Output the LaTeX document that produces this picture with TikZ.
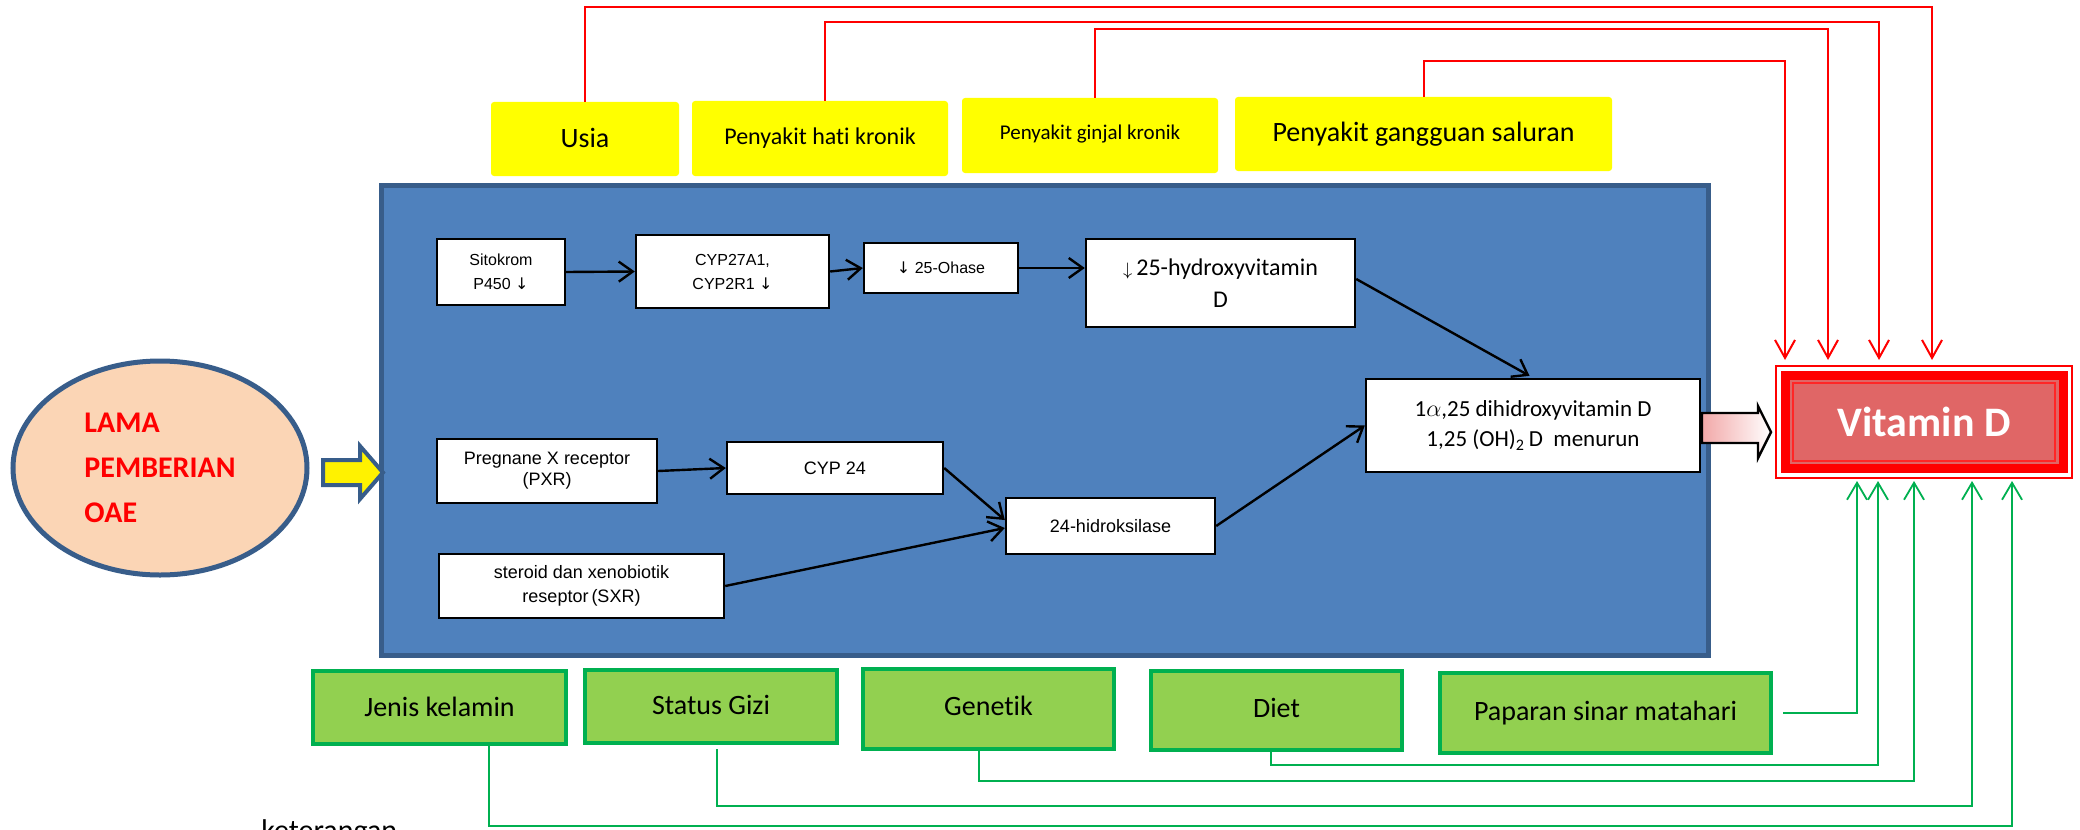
\documentclass[tikz,border=0pt]{standalone}
\usepackage{fontspec}
\setmainfont{Carlito}[Ligatures=NoCommon]
\newfontfamily\ari{Liberation Sans}
\newfontfamily\dej{DejaVu Sans}
\usetikzlibrary{arrows.meta,calc,shapes.geometric}
\definecolor{bluefill}{HTML}{4F81BD}
\definecolor{blueedge}{HTML}{385D8A}
\definecolor{peach}{HTML}{FBD5B5}
\definecolor{gfill}{HTML}{92D050}
\definecolor{gedge}{HTML}{00B050}
\definecolor{vitfill}{HTML}{E06666}
\definecolor{pinkarrow}{HTML}{F2A8A8}
\definecolor{ylw}{HTML}{FFFF00}
\begin{document}
\begin{tikzpicture}[x=0.5pt,y=-0.5pt,
  ibox/.style={draw=black, line width=1.2pt, fill=white, inner sep=1pt, align=center},
  arifont/.style={font=\ari\fontsize{8}{12}\selectfont},
  arifontb/.style={font=\ari\fontsize{9}{10.5}\selectfont},
  ybox/.style={fill=ylw, rounded corners=1.5pt, inner sep=0pt, align=center},
  gbox/.style={draw=gedge, fill=gfill, line width=2pt, inner sep=0pt, align=center, font=\fontsize{14}{16}\selectfont},
  barrow/.style={-{Straight Barb[length=7pt,width=10pt]}, line width=1.2pt, black},
  rline/.style={red, line width=1pt, -{Straight Barb[length=9pt,width=10pt]}},
  gline/.style={gedge, line width=0.9pt, -{Straight Barb[length=8.5pt,width=10pt]}}
]
\useasboundingbox (0,0) rectangle (2080,829);
\clip (0,0) rectangle (2080,829);
\fill[white] (0,0) rectangle (2080,829);

% big blue panel
\node[draw=blueedge, fill=bluefill, line width=2.5pt, minimum width=663.5pt, minimum height=235pt, inner sep=0] (blue) at (1044.5,420) {};

% ellipse
\node[ellipse, draw=blueedge, fill=peach, line width=2.5pt, minimum width=147pt, minimum height=107pt, inner sep=0,
      align=left, text=red, font=\bfseries\fontsize{15}{22.5}\selectfont] (lama) at (160,468) {LAMA\\PEMBERIAN\\OAE};

% yellow block arrow
\draw[blueedge, line width=2pt, fill=yellow, line join=miter] (323,460) -- (360,460) -- (360,446) -- (383,472.5) -- (360,499) -- (360,485) -- (323,485) -- cycle;

% yellow boxes
\node[ybox, minimum width=94pt, minimum height=37pt, font=\fontsize{14}{16}\selectfont] (usia) at (585,139) {\raisebox{1pt}{Usia}};
\node[ybox, minimum width=128pt, minimum height=37.5pt, font=\fontsize{12}{14}\selectfont] (hati) at (820,138.5) {\raisebox{2pt}{Penyakit hati kronik}};
\node[ybox, minimum width=128pt, minimum height=37.5pt, font=\fontsize{10.5}{12}\selectfont] (ginjal) at (1090,135.5) {\raisebox{3pt}{Penyakit ginjal kronik}};
\node[ybox, minimum width=188.5pt, minimum height=37pt, font=\fontsize{14}{16}\selectfont] (saluran) at (1423.5,134) {\raisebox{1pt}{Penyakit gangguan saluran}};

% inner boxes
\node[ibox, arifont, minimum width=64pt, minimum height=33pt] (sito) at (501,272) {Sitokrom\\P450 {\dej ↓}};
\node[ibox, arifont, minimum width=96.5pt, minimum height=36.5pt] (cyp27) at (732.5,271.5) {CYP27A1,\\CYP2R1 {\dej ↓}};
\node[ibox, arifont, minimum width=77pt, minimum height=25pt] (ohase) at (941,268) {{\dej ↓} 25-Ohase};
\node[ibox, minimum width=134.5pt, minimum height=44pt, font=\fontsize{12}{16}\selectfont] (hydroxy) at (1220.5,283) {{\fontsize{9}{9}\selectfont$\downarrow$}\,25-hydroxyvitamin\\D};
\node[ibox, minimum width=167pt, minimum height=46.5pt, font=\fontsize{11.5}{15}\selectfont] (dihyd) at (1533,425.5) {1$\alpha$,25 dihidroxyvitamin D\\1,25 (OH)\textsubscript{2}\,D\ \ menurun};
\node[ibox, arifontb, minimum width=110pt, minimum height=32pt] (pxr) at (547,471) {Pregnane X receptor\\(PXR)};
\node[ibox, arifontb, minimum width=108pt, minimum height=26pt] (cyp24) at (835,468) {CYP 24};
\node[ibox, arifontb, minimum width=104.5pt, minimum height=28pt] (hidrok) at (1110.5,526) {24-hidroksilase};
\node[ibox, font=\ari\fontsize{9}{12}\selectfont, minimum width=142.5pt, minimum height=32pt] (sxr) at (581.5,586) {steroid dan xenobiotik\\reseptor\,(SXR)};

% black arrows
\draw[barrow] (sito.east) -- (cyp27.west);
\draw[barrow] (cyp27.east) -- (ohase.west);
\draw[barrow] (ohase.east) -- (hydroxy.west |- ohase.east);
\draw[barrow, shorten >=2pt] ([yshift=2pt]hydroxy.east) -- (dihyd.north);
\draw[barrow] (hidrok.east) -- (dihyd.west);
\draw[barrow] (pxr.east) -- (cyp24.west);
\draw[barrow] (cyp24.east) -- ([yshift=3pt]hidrok.west);
\draw[barrow] (sxr.east) -- ([yshift=-1pt]hidrok.west);

% Vitamin D box
\node[draw=red, line width=1pt, minimum width=148pt, minimum height=56pt, inner sep=0,
  path picture={
    \draw[red, line width=4.5pt, fill=vitfill] ($(path picture bounding box.north west)+(9,9)$) rectangle ($(path picture bounding box.south east)+(-9,-10)$);
    \draw[red!85!white, line width=0.8pt] ($(path picture bounding box.north west)+(17,17)$) rectangle ($(path picture bounding box.south east)+(-17,-17)$);
  },
  text=white, font=\bfseries\fontsize{21}{24}\selectfont] (vitd) at (1924,422) {Vitamin D};

% pink block arrow
\path[draw=black, line width=1.2pt, line join=miter, left color=pinkarrow, right color=white] (1702,413) -- (1758,413) -- (1758,406) -- (1771,432) -- (1758,458) -- (1758,443) -- (1702,443) -- cycle;

% red connectors
\coordinate (r1) at (1932,7);
\coordinate (r2) at (1879,22);
\coordinate (r3) at (1828,29);
\coordinate (r4) at (1785,61);
\draw[rline, shorten >=2.5pt] (usia.north) |- (r1) -- (r1 |- vitd.north);
\draw[rline, shorten >=2.5pt] ([xshift=2.5pt]hati.north) |- (r2) -- (r2 |- vitd.north);
\draw[rline, shorten >=2.5pt] ([xshift=2.5pt]ginjal.north) |- (r3) -- (r3 |- vitd.north);
\draw[rline, shorten >=2.5pt] (saluran.north) |- (r4) -- (r4 |- vitd.north);

% green boxes
\node[gbox, minimum width=126.5pt, minimum height=36.5pt] (jenis) at (439.5,707.5) {\raisebox{1pt}{Jenis kelamin}};
\node[gbox, minimum width=126pt, minimum height=36.5pt] (gizi) at (711,706.5) {\raisebox{2pt}{Status Gizi}};
\node[gbox, minimum width=125.5pt, minimum height=40pt] (genetik) at (988.5,709) {\raisebox{3pt}{Genetik}};
\node[gbox, minimum width=125.5pt, minimum height=39.5pt] (diet) at (1276.5,710.5) {\raisebox{3pt}{Diet}};
\node[gbox, minimum width=165.5pt, minimum height=40pt] (paparan) at (1605.5,713) {\raisebox{2pt}{Paparan sinar matahari}};

% green connectors
\coordinate (g1) at (1857,713);
\coordinate (g2) at (1878,765);
\coordinate (g3) at (1914,781);
\coordinate (g4) at (1972,806);
\coordinate (g5) at (2012,826);
\draw[gline, shorten <=5pt, shorten >=1pt] (paparan.east) -- (g1) -- (g1 |- vitd.south);
\draw[gline, shorten >=1pt] ([xshift=-2.75pt]diet.south) |- (g2) -- (g2 |- vitd.south);
\draw[gline, shorten >=1pt] ([xshift=-4.75pt]genetik.south) |- (g3) -- (g3 |- vitd.south);
\draw[gline, shorten >=1pt, shorten <=2pt] ([xshift=3pt]gizi.south) |- (g4) -- (g4 |- vitd.south);
\draw[gline, shorten >=1pt] ([xshift=24.75pt]jenis.south) |- (g5) -- (g5 |- vitd.south);

% keterangan (cut off at bottom edge, as in the reference)
\node[anchor=base west, inner sep=0, font=\fontsize{15}{18}\selectfont] (ket) at (261,840) {keterangan};
\end{tikzpicture}
\end{document}
